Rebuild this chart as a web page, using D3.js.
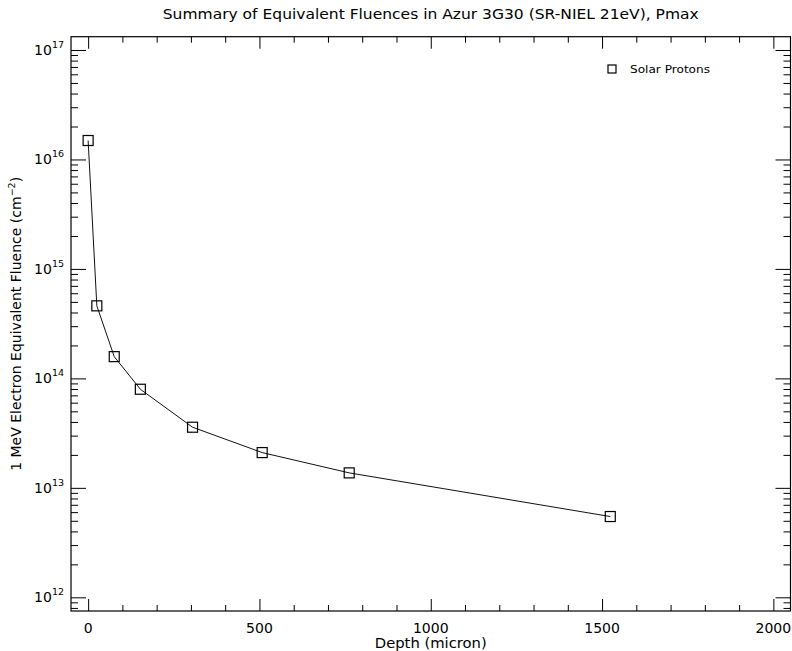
<!DOCTYPE html>
<html>
<head>
<meta charset="utf-8">
<script src="https://cdn.jsdelivr.net/npm/d3@7/dist/d3.min.js"></script>
<style>
  html, body { margin: 0; padding: 0; background: #fff; }
  svg { display: block; }
  text { font-family: "DejaVu Sans", "Liberation Sans", sans-serif; fill: #000; }
</style>
</head>
<body>
<svg id="chart" width="792" height="651"></svg>
<script>
// Depth through coverglass (micron) and the resulting equivalent fluence
const depths = [0, 25.4, 76.2, 152.4, 304.8, 508, 762, 1524];
const fluences = [1.49e16, 4.6e14, 1.58e14, 7.96e13, 3.58e13, 2.10e13, 1.37e13, 5.47e12];
const seriesName = "Solar Protons";

const xMajorTicks = [0, 500, 1000, 1500, 2000];
const xMinorTicks = d3.range(0, 2100, 100).filter(v => v % 500 !== 0);
const yDecades = [12, 13, 14, 15, 16, 17];

const titleText = "Summary of Equivalent Fluences in Azur 3G30 (SR-NIEL 21eV), Pmax";
const xTitle = "Depth (micron)";
const yTitle = "1 MeV Electron Equivalent Fluence (cm";

const svg = d3.select("#chart");
const L = 71, R = 790.5, T = 36.7, B = 611;

const x = d3.scaleLinear().domain([-50, 2050]).range([L, R]);
const y = d3.scaleLog().domain([Math.pow(10, 11.875), Math.pow(10, 17.1215)]).range([B, T]);

// minor log ticks (2..9 per decade) inside the visible range
const yMinor = [];
[11].concat(yDecades).forEach(d => {
  for (let k = 2; k <= 9; k++) {
    const v = k * Math.pow(10, d);
    if (v >= y.domain()[0] && v <= y.domain()[1]) yMinor.push(v);
  }
});
const yMajor = yDecades.map(d => Math.pow(10, d));

const axisStyle = g => {
  g.select(".domain").remove();
  g.selectAll(".tick line").attr("stroke", "#000").attr("stroke-width", 1);
  g.selectAll(".tick text").remove();
};

// x axes: bottom and top, ticks pointing inward
svg.append("g").attr("transform", `translate(0,${B})`)
  .call(d3.axisBottom(x).tickValues(xMajorTicks).tickSize(-12)).call(axisStyle);
svg.append("g").attr("transform", `translate(0,${B})`)
  .call(d3.axisBottom(x).tickValues(xMinorTicks).tickSize(-6)).call(axisStyle);
svg.append("g").attr("transform", `translate(0,${T})`)
  .call(d3.axisTop(x).tickValues(xMajorTicks).tickSize(-12)).call(axisStyle);
svg.append("g").attr("transform", `translate(0,${T})`)
  .call(d3.axisTop(x).tickValues(xMinorTicks).tickSize(-6)).call(axisStyle);

// y axes: left and right
svg.append("g").attr("transform", `translate(${L},0)`)
  .call(d3.axisLeft(y).tickValues(yMajor).tickSize(-15)).call(axisStyle);
svg.append("g").attr("transform", `translate(${L},0)`)
  .call(d3.axisLeft(y).tickValues(yMinor).tickSize(-7)).call(axisStyle);
svg.append("g").attr("transform", `translate(${R},0)`)
  .call(d3.axisRight(y).tickValues(yMajor).tickSize(-15)).call(axisStyle);
svg.append("g").attr("transform", `translate(${R},0)`)
  .call(d3.axisRight(y).tickValues(yMinor).tickSize(-7)).call(axisStyle);

// frame
svg.append("rect")
  .attr("x", L).attr("y", T).attr("width", R - L).attr("height", B - T)
  .attr("fill", "none").attr("stroke", "#000").attr("stroke-width", 1.2);

// x tick labels
svg.append("g").selectAll("text").data(xMajorTicks).join("text")
  .attr("x", d => x(d)).attr("y", B + 22)
  .attr("text-anchor", "middle").attr("font-size", 14)
  .text(d => d);

// y tick labels as powers of ten
const yl = svg.append("g").selectAll("text").data(yDecades).join("text")
  .attr("x", L - 7).attr("y", d => y(Math.pow(10, d)) + 5)
  .attr("text-anchor", "end").attr("font-size", 14);
yl.append("tspan").text("10");
yl.append("tspan").attr("dy", -7).attr("font-size", 9.5).text(d => d);

// title and axis titles
svg.append("text").attr("x", (L + R) / 2).attr("y", 19)
  .attr("text-anchor", "middle").attr("font-size", 13.5)
  .attr("textLength", 536).attr("lengthAdjust", "spacingAndGlyphs")
  .text(titleText);
svg.append("text").attr("x", (L + R) / 2).attr("y", 648)
  .attr("text-anchor", "middle").attr("font-size", 14)
  .attr("textLength", 112).attr("lengthAdjust", "spacingAndGlyphs")
  .text(xTitle);
const yt = svg.append("text")
  .attr("transform", `translate(21,${(T + B) / 2}) rotate(-90)`)
  .attr("text-anchor", "middle").attr("font-size", 14);
yt.append("tspan").text(yTitle);
yt.append("tspan").attr("dy", -6).attr("font-size", 9.5).text("\u22122");
yt.append("tspan").attr("dy", 6).text(")");

// data line and square markers
const pts = depths.map((d, i) => [d, fluences[i]]);
svg.append("path").datum(pts)
  .attr("fill", "none").attr("stroke", "#111").attr("stroke-width", 1)
  .attr("d", d3.line().x(d => x(d[0])).y(d => y(d[1])));
const ms = 10;
svg.append("g").selectAll("rect").data(pts).join("rect")
  .attr("x", d => x(d[0]) - ms / 2).attr("y", d => y(d[1]) - ms / 2)
  .attr("width", ms).attr("height", ms)
  .attr("fill", "none").attr("stroke", "#000").attr("stroke-width", 1.2);

// legend
svg.append("rect").attr("x", 612 - 4).attr("y", 69 - 4).attr("width", 8).attr("height", 8)
  .attr("fill", "none").attr("stroke", "#000").attr("stroke-width", 1.2);
svg.append("text").attr("x", 630).attr("y", 73).attr("font-size", 10.5)
  .attr("textLength", 80).attr("lengthAdjust", "spacingAndGlyphs")
  .text(seriesName);
</script>
</body>
</html>
